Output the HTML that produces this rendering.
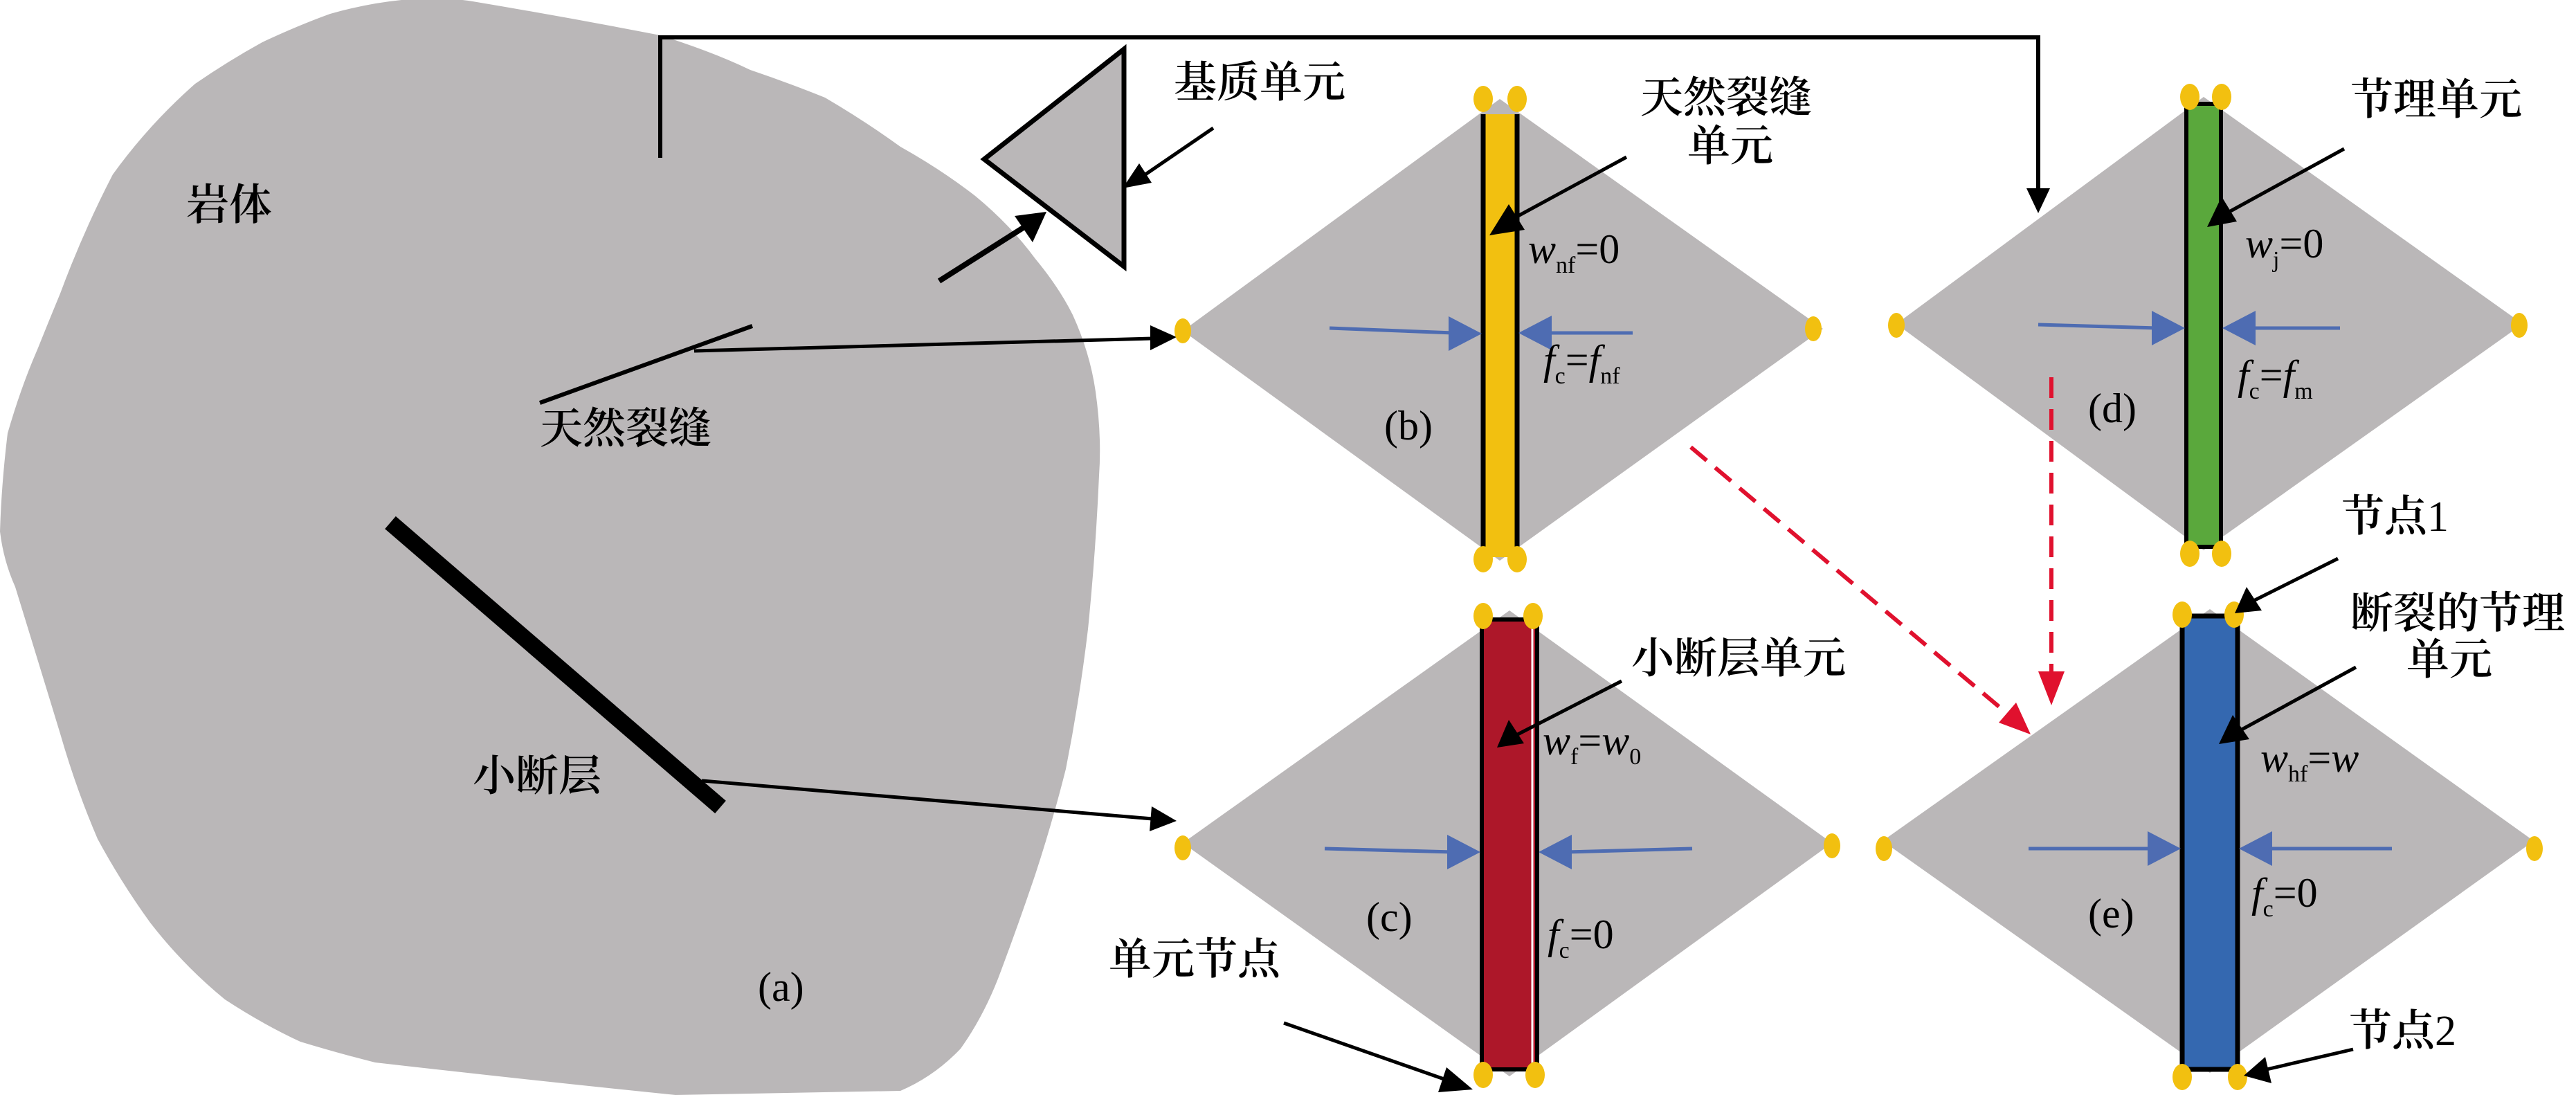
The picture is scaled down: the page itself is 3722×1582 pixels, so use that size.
<!DOCTYPE html>
<html><head><meta charset="utf-8"><style>
html,body{margin:0;padding:0;background:#fff;}
svg{display:block;}
.cn{font-family:"Liberation Serif","Noto Serif CJK SC",serif;font-size:62px;font-weight:600;fill:#000;}
.n{font-weight:normal;}
.m{font-family:"Liberation Serif",serif;font-size:60px;fill:#000;}
.i{font-style:italic;}
.s{font-size:34px;}
</style></head><body>
<svg width="3722" height="1582" viewBox="0 0 3722 1582" xmlns="http://www.w3.org/2000/svg">
<path d="M580,0 Q640,-5 683,2 Q820,25 954,51 Q1030,75 1084,101 Q1140,120 1192,141 Q1250,175 1301,212 Q1360,245 1409,283 Q1460,325 1496,374 Q1530,415 1550,455 Q1575,510 1583,566 Q1592,630 1588,687 Q1583,800 1572,909 Q1560,1010 1540,1111 Q1520,1190 1496,1263 Q1470,1340 1442,1414 Q1420,1470 1388,1515 Q1350,1555 1301,1576 L976,1582 Q760,1560 542,1535 Q490,1522 434,1505 Q380,1480 325,1444 Q265,1395 217,1333 Q175,1275 141,1212 Q110,1140 87,1060 Q55,955 22,848 Q5,810 0,768 Q2,700 11,626 Q30,560 54,505 Q70,465 87,424 Q120,335 163,252 Q215,180 282,121 Q330,88 379,61 Q430,37 477,20 Q530,5 580,0 Z" fill="#bab7b8"/>
<polyline points="954,228 954,54 2945,54 2945,280" fill="none" stroke="#000" stroke-width="6"/>
<path d="M2928,272 L2962,272 L2945,308 Z" fill="#000"/>
<polygon points="1422,230 1624,71 1624,385" fill="#bab7b8" stroke="#000" stroke-width="7"/>
<line x1="1357" y1="406" x2="1480" y2="328" stroke="#000" stroke-width="8"/>
<path d="M1512,306 L1492,350 L1466,312 Z" fill="#000"/>
<line x1="1753" y1="185" x2="1655" y2="252" stroke="#000" stroke-width="5"/>
<path d="M1622,272 L1646,236 L1664,264 Z" fill="#000"/>
<line x1="780" y1="582" x2="1087" y2="471" stroke="#000" stroke-width="6"/>
<line x1="1003" y1="507" x2="1665" y2="489" stroke="#000" stroke-width="5"/>
<path d="M1700,487 L1662,470 L1662,506 Z" fill="#000"/>
<line x1="564" y1="755" x2="1041" y2="1166" stroke="#000" stroke-width="24"/>
<line x1="1014" y1="1128" x2="1665" y2="1183" stroke="#000" stroke-width="5"/>
<path d="M1700,1186 L1664,1165 L1661,1201 Z" fill="#000"/>
<polygon points="1709,478 2167,143 2634,475 2167,810" fill="#bab7b8"/>
<polygon points="1709,1218 2181,882 2647,1218 2181,1555" fill="#bab7b8"/>
<polygon points="2740,468 3184,140 3645,468 3184,795" fill="#bab7b8"/>
<polygon points="2720,1215 3193,880 3661,1215 3193,1550" fill="#bab7b8"/>
<rect x="2143" y="165" width="49" height="640" fill="#f2c010"/>
<line x1="2143" y1="165" x2="2143" y2="805" stroke="#000" stroke-width="7"/>
<line x1="2192" y1="165" x2="2192" y2="805" stroke="#000" stroke-width="7"/>
<rect x="2141" y="895" width="80" height="650" fill="#ad1729" stroke="#000" stroke-width="6"/>
<line x1="2214" y1="900" x2="2214" y2="1540" stroke="#fff" stroke-width="3"/>
<rect x="3159" y="150" width="50" height="640" fill="#5aa83c" stroke="#000" stroke-width="6"/>
<rect x="3153" y="890" width="80" height="655" fill="#3468b0" stroke="#000" stroke-width="7"/>
<g fill="#f2c010">
<ellipse cx="2143" cy="143" rx="14" ry="19"/><ellipse cx="2192" cy="143" rx="14" ry="19"/>
<ellipse cx="2143" cy="808" rx="14" ry="19"/><ellipse cx="2192" cy="808" rx="14" ry="19"/>
<ellipse cx="1709" cy="478" rx="12" ry="18"/><ellipse cx="2620" cy="475" rx="12" ry="18"/>
<ellipse cx="2143" cy="890" rx="14" ry="19"/><ellipse cx="2215" cy="890" rx="14" ry="19"/>
<ellipse cx="2143" cy="1553" rx="14" ry="19"/><ellipse cx="2218" cy="1553" rx="14" ry="19"/>
<ellipse cx="1709" cy="1225" rx="12" ry="18"/><ellipse cx="2647" cy="1222" rx="12" ry="18"/>
<ellipse cx="3164" cy="140" rx="14" ry="19"/><ellipse cx="3210" cy="140" rx="14" ry="19"/>
<ellipse cx="3164" cy="800" rx="14" ry="19"/><ellipse cx="3210" cy="800" rx="14" ry="19"/>
<ellipse cx="2740" cy="470" rx="12" ry="18"/><ellipse cx="3640" cy="470" rx="12" ry="18"/>
<ellipse cx="3153" cy="888" rx="14" ry="19"/><ellipse cx="3228" cy="888" rx="14" ry="19"/>
<ellipse cx="3153" cy="1556" rx="14" ry="19"/><ellipse cx="3233" cy="1556" rx="14" ry="19"/>
<ellipse cx="2722" cy="1226" rx="12" ry="18"/><ellipse cx="3662" cy="1226" rx="12" ry="18"/>
</g>
<g stroke="#4e6cb2" stroke-width="5" fill="none">
<line x1="1921" y1="474" x2="2100" y2="481"/><line x1="2359" y1="481" x2="2232" y2="481"/>
<line x1="1914" y1="1226" x2="2100" y2="1231"/><line x1="2445" y1="1226" x2="2262" y2="1231"/>
<line x1="2945" y1="469" x2="3118" y2="474"/><line x1="3381" y1="474" x2="3250" y2="474"/>
<line x1="2931" y1="1226" x2="3112" y2="1226"/><line x1="3456" y1="1226" x2="3274" y2="1226"/>
</g>
<g fill="#4e6cb2">
<path d="M2141,482 L2093,457 L2093,507Z"/><path d="M2194,481 L2242,456 L2242,506Z"/>
<path d="M2139,1231 L2091,1206 L2091,1256Z"/><path d="M2223,1231 L2271,1206 L2271,1256Z"/>
<path d="M3157,474 L3109,449 L3109,499Z"/><path d="M3211,474 L3259,449 L3259,499Z"/>
<path d="M3151,1226 L3103,1201 L3103,1251Z"/><path d="M3235,1226 L3283,1201 L3283,1251Z"/>
</g>
<g stroke="#e0112e" stroke-width="6" stroke-dasharray="30,16" fill="none">
<line x1="2443" y1="646" x2="2905" y2="1035"/>
<line x1="2964" y1="545" x2="2964" y2="975"/>
</g>
<path d="M2934,1061 L2888,1044 L2913,1015Z" fill="#e0112e"/>
<path d="M2964,1019 L2945,970 L2983,970Z" fill="#e0112e"/>
<g stroke="#000" stroke-width="5">
<line x1="2350" y1="227" x2="2175" y2="322"/>
<line x1="3387" y1="215" x2="3210" y2="312"/>
<line x1="3378" y1="807" x2="3252" y2="870"/>
<line x1="3404" y1="964" x2="3228" y2="1060"/>
<line x1="3400" y1="1516" x2="3275" y2="1545"/>
<line x1="2343" y1="984" x2="2185" y2="1065"/>
<line x1="1855" y1="1478" x2="2095" y2="1562"/>
</g>
<g fill="#000">
<path d="M2152,340 L2180,295 L2203,332Z"/>
<path d="M3189,328 L3210,284 L3232,320Z"/>
<path d="M3229,886 L3246,848 L3268,882Z"/>
<path d="M3206,1075 L3226,1033 L3250,1068Z"/>
<path d="M3242,1554 L3273,1527 L3282,1565Z"/>
<path d="M2163,1080 L2180,1040 L2202,1074Z"/>
<path d="M2128,1574 L2090,1542 L2078,1578Z"/>
</g>
<text class="cn" x="269" y="317">岩体</text>
<text class="cn" x="780" y="640">天然裂缝</text>
<text class="cn" x="683" y="1142">小断层</text>
<text class="m" x="1095" y="1446">(a)</text>
<text class="cn" x="1696" y="140">基质单元</text>
<text class="cn" x="2370" y="162">天然裂缝</text>
<text class="cn" x="2438" y="232">单元</text>
<text class="cn" x="3396" y="165">节理单元</text>
<text class="cn" x="3383" y="767">节点<tspan class="n">1</tspan></text>
<text class="cn" x="3396" y="907">断裂的节理</text>
<text class="cn" x="3477" y="974">单元</text>
<text class="cn" x="3394" y="1510">节点<tspan class="n">2</tspan></text>
<text class="cn" x="2357" y="972">小断层单元</text>
<text class="cn" x="1602" y="1407">单元节点</text>
<text class="m" x="2208" y="380"><tspan class="i">w</tspan><tspan class="s" dy="14">nf</tspan><tspan dy="-14">=0</tspan></text>
<text class="m" x="2230" y="540"><tspan class="i">f</tspan><tspan class="s" dy="14">c</tspan><tspan dy="-14">=</tspan><tspan class="i">f</tspan><tspan class="s" dy="14">nf</tspan></text>
<text class="m" x="2000" y="635">(b)</text>
<text class="m" x="3244" y="372"><tspan class="i">w</tspan><tspan class="s" dy="14">j</tspan><tspan dy="-14">=0</tspan></text>
<text class="m" x="3233" y="562"><tspan class="i">f</tspan><tspan class="s" dy="14">c</tspan><tspan dy="-14">=</tspan><tspan class="i">f</tspan><tspan class="s" dy="14">m</tspan></text>
<text class="m" x="3017" y="610">(d)</text>
<text class="m" x="2229" y="1090"><tspan class="i">w</tspan><tspan class="s" dy="14">f</tspan><tspan dy="-14">=</tspan><tspan class="i">w</tspan><tspan class="s" dy="14">0</tspan></text>
<text class="m" x="2236" y="1370"><tspan class="i">f</tspan><tspan class="s" dy="14">c</tspan><tspan dy="-14">=0</tspan></text>
<text class="m" x="1974" y="1345">(c)</text>
<text class="m" x="3266" y="1115"><tspan class="i">w</tspan><tspan class="s" dy="14">hf</tspan><tspan dy="-14">=</tspan><tspan class="i">w</tspan></text>
<text class="m" x="3253" y="1310"><tspan class="i">f</tspan><tspan class="s" dy="14">c</tspan><tspan dy="-14">=0</tspan></text>
<text class="m" x="3017" y="1340">(e)</text>
</svg>
</body></html>
